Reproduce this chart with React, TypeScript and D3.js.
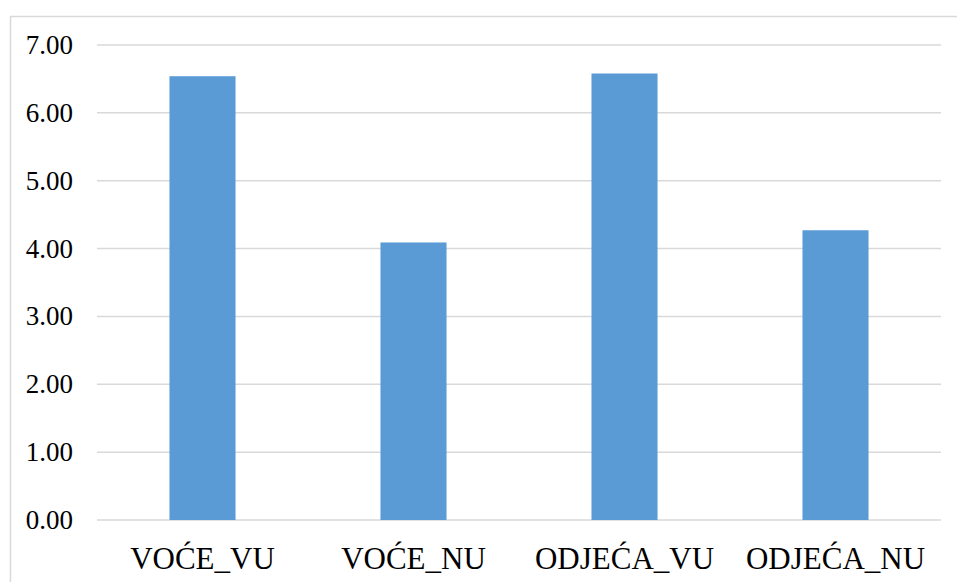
import { useRef, useEffect } from "react";
import * as d3 from "d3";

const categories = ["VOĆE_VU", "VOĆE_NU", "ODJEĆA_VU", "ODJEĆA_NU"];
const values = [6.54, 4.09, 6.58, 4.27];
const yTicks = [0, 1, 2, 3, 4, 5, 6, 7];

function BarChart() {
    const svgRef = useRef<SVGSVGElement>(null);

    useEffect(() => {
        const w = 957;
        const h = 582;
        const left = 97;
        const right = 941;
        const top = 45;
        const bottom = 520;

        const svg = d3.select(svgRef.current)
            .attr("width", w)
            .attr("height", h);
        svg.selectAll("*").remove();

        svg.append("rect")
            .attr("width", w)
            .attr("height", h)
            .attr("fill", "#fff");

        // outer frame (right and bottom edges are cropped off)
        svg.append("path")
            .attr("d", `M10.5,${h} V16.5 H${w}`)
            .attr("fill", "none")
            .attr("stroke", "#d9d9d9")
            .attr("stroke-width", 1.5);

        const x = d3.scaleBand<string>()
            .domain(categories)
            .range([left, right])
            .paddingInner(0.687)
            .paddingOuter(0.3435);

        const y = d3.scaleLinear()
            .domain([0, 7])
            .range([bottom, top]);

        svg.append("g")
            .selectAll("line")
            .data(yTicks)
            .enter()
            .append("line")
            .attr("x1", left)
            .attr("x2", right)
            .attr("y1", d => y(d))
            .attr("y2", d => y(d))
            .attr("stroke", "#d9d9d9")
            .attr("stroke-width", 1.5);

        svg.append("g")
            .selectAll("text")
            .data(yTicks)
            .enter()
            .append("text")
            .attr("x", 73)
            .attr("y", d => y(d) + 9)
            .attr("text-anchor", "end")
            .attr("font-family", "'Liberation Serif', 'Times New Roman', serif")
            .attr("font-size", 27)
            .attr("fill", "#000")
            .text(d => d3.format(".2f")(d));

        svg.append("g")
            .selectAll("rect")
            .data(values)
            .enter()
            .append("rect")
            .attr("x", (d, i) => x(categories[i]) as number)
            .attr("width", x.bandwidth())
            .attr("y", d => y(d))
            .attr("height", d => y(0) - y(d))
            .attr("fill", "#5b9bd5");

        svg.append("g")
            .selectAll("text")
            .data(categories)
            .enter()
            .append("text")
            .attr("x", d => (x(d) as number) + x.bandwidth() / 2)
            .attr("y", 569)
            .attr("text-anchor", "middle")
            .attr("font-family", "'Liberation Serif', 'Times New Roman', serif")
            .attr("font-size", 31)
            .attr("fill", "#000")
            .text(d => d);
    }, []);

    return <svg ref={svgRef} style={{ position: "absolute", left: 0, top: 0 }} />;
}

export default function App() {
    return <BarChart />;
}
